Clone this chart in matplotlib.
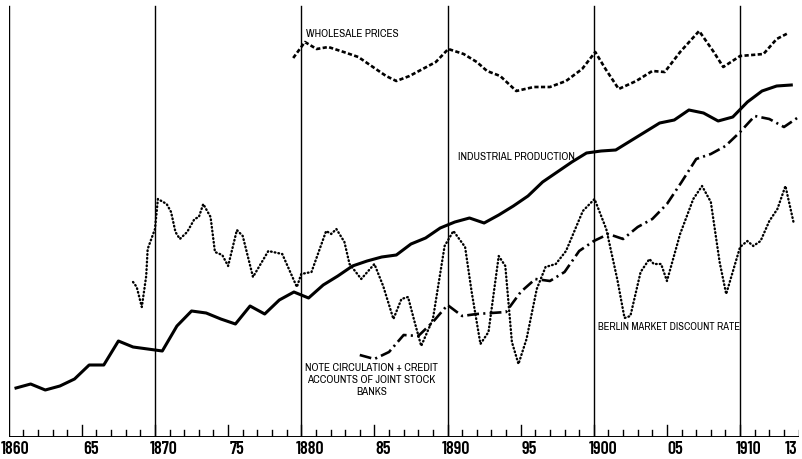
import matplotlib
matplotlib.use("Agg")
import matplotlib.pyplot as plt
import numpy as np

plt.rcParams['font.family'] = ['Archivo Narrow', 'DejaVu Sans']

# industrial production, one value a year (drawn at mid-year)
ip_years = list(range(1860, 1914))
ip_vals = [49, 53, 47, 51, 58, 72, 72, 96, 90, 88,
           86, 111, 126, 124, 118, 113, 131, 123, 137, 145,
           139, 152, 161, 171, 176, 180, 182, 193, 199, 209,
           215, 219, 214, 222, 231, 241, 255, 265, 275, 284,
           286, 287, 296, 305, 314, 317, 327, 324, 316, 320,
           335, 346, 351, 352]

# note circulation + credit accounts of joint stock banks
nc_years = list(range(1884, 1915))
nc_vals = [82, 78, 85, 102, 101, 115, 132, 121, 123, 124,
           125, 145, 158, 156, 165, 186, 196, 203, 198, 210,
           218, 233, 255, 278, 283, 291, 305, 321, 318, 310, 320]

# wholesale prices
wp_t = [1879.45, 1880.25, 1881.05, 1881.85, 1882.9, 1883.9, 1884.9, 1885.8,
        1886.5, 1887.4, 1888.3, 1889.2, 1890.05, 1891.1, 1892.0, 1892.7,
        1893.6, 1894.7, 1895.9, 1897.0, 1898.1, 1899.2, 1900.1, 1900.8,
        1901.7, 1902.9, 1904.0, 1904.85, 1905.9, 1907.2, 1908.2, 1908.85,
        1910.0, 1911.6, 1912.5, 1913.3]
wp_vals = [379, 395, 388, 390, 385, 380, 370, 361,
           356, 361, 368, 375, 388, 383, 375, 366,
           361, 346, 350, 350, 356, 368, 385, 368,
           348, 356, 366, 365, 385, 406, 385, 370,
           381, 383, 398, 404]

# berlin market discount rate
bd_t = [1868.5, 1868.75, 1869.1, 1869.4, 1869.5, 1870.0, 1870.2, 1870.8,
        1871.1, 1871.4, 1871.7, 1872.2, 1872.7, 1873.0, 1873.3, 1873.8,
        1874.1, 1874.6, 1875.0, 1875.6, 1876.0, 1876.7, 1877.75, 1878.7,
        1879.7, 1880.0, 1880.7, 1881.7, 1882.05, 1882.4, 1882.95, 1883.3,
        1884.1, 1885.0, 1885.6, 1886.3, 1886.85, 1887.3, 1887.75, 1888.2,
        1889.0, 1889.8, 1890.4, 1891.2, 1891.65, 1892.25, 1892.8, 1893.5,
        1893.95, 1894.4, 1894.85, 1895.4, 1896.1, 1896.7, 1897.4, 1898.1,
        1899.25, 1900.05, 1900.85, 1901.6, 1902.1, 1902.5, 1903.2, 1903.8,
        1904.1, 1904.6, 1905.0, 1905.9, 1906.8, 1907.4, 1908.0, 1908.6,
        1909.05, 1910.0, 1910.5, 1910.9, 1911.4, 1912.0, 1912.55, 1913.1,
        1913.65]
bd_vals = [155, 150, 130, 161, 188, 208, 238, 233,
           225, 205, 198, 205, 218, 220, 233, 220,
           185, 182, 171, 207, 201, 160, 186, 183,
           150, 163, 165, 206, 203, 208, 195, 173,
           158, 173, 151, 118, 138, 140, 115, 91,
           118, 191, 206, 190, 145, 93, 105, 181,
           171, 95, 73, 98, 148, 170, 173, 186,
           226, 238, 208, 158, 119, 121, 165, 178,
           173, 173, 156, 203, 238, 251, 235, 175,
           143, 190, 196, 191, 196, 216, 228, 251,
           215]

decade_lines = [1860, 1870, 1880, 1890, 1900, 1910]
tick_labels = ['1860', '65', '1870', '75', '1880', '85', '1890', '95',
               '1900', '05', '1910', '13']
tick_pos = [1860, 1865, 1870, 1875, 1880, 1885, 1890, 1895, 1900, 1905, 1910, 1913]

fig = plt.figure(figsize=(8.02, 4.60), dpi=100)
ax = fig.add_axes([8.7 / 802, 22 / 460, 789.9 / 802, 438 / 460])
ax.set_xlim(1860, 1914)
ax.set_ylim(0, 438)
for s in ax.spines.values():
    s.set_visible(False)
ax.set_xticks([])
ax.set_yticks([])

# frame: base line, decade lines, year ticks
ax.plot([1860, 1914], [0, 0], color='black', lw=1.4, solid_capstyle='butt')
for yr in decade_lines:
    ax.plot([yr, yr], [0, 431], color='black', lw=1.0)
for yr in range(1861, 1915):
    h = 12 if yr % 5 == 0 else 7
    ax.plot([yr, yr], [0, h], color='black', lw=1.0)

tick_font = ['Barlow Condensed', 'DejaVu Sans']
for pos, lab in zip(tick_pos, tick_labels):
    x, ha = pos + 0.6, 'center'
    if pos == 1860:
        x, ha = 1859.45, 'left'
    if pos == 1913:
        x, ha = 1913.95, 'right'
    ax.text(x, -12, lab, ha=ha, va='center', fontsize=13, family=tick_font,
            fontweight='semibold', clip_on=False)

ip_x = np.array(ip_years) + 0.5
ax.plot(ip_x, ip_vals, color='black', lw=2.2, solid_joinstyle='round')
ax.plot(nc_years, nc_vals, color='black', lw=1.9, dashes=(4.5, 1.6, 0.8, 1.6))
ax.plot(wp_t, wp_vals, color='black', lw=1.9, dashes=(1.6, 0.9))
ax.plot(bd_t, bd_vals, color='black', lw=1.7, dashes=(0.3, 1.3),
        dash_capstyle='round')

ax.text(1880.3, 404, 'WHOLESALE PRICES', fontsize=8, ha='left', va='center')
ax.text(1890.7, 281, 'INDUSTRIAL PRODUCTION', fontsize=8, ha='left', va='center')
ax.text(1884.8, 58, 'NOTE CIRCULATION + CREDIT\nACCOUNTS OF JOINT STOCK\nBANKS',
        fontsize=8, ha='center', va='center', linespacing=1.2)
ax.text(1900.3, 111, 'BERLIN MARKET DISCOUNT RATE', fontsize=7.6, ha='left', va='center')

fig.savefig('out.png', dpi=100, facecolor='white')
